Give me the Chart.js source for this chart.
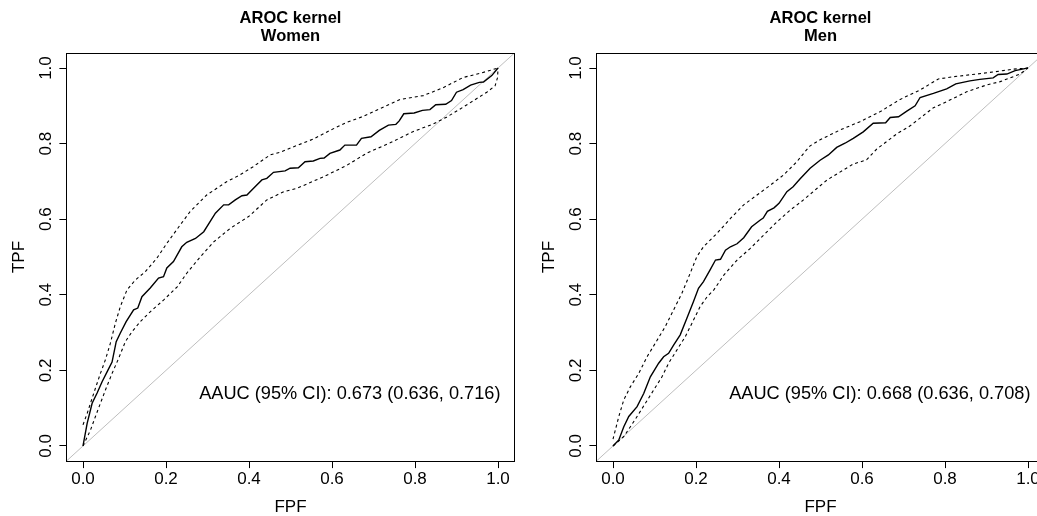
<!DOCTYPE html>
<html>
<head>
<meta charset="utf-8">
<script src="https://cdn.jsdelivr.net/npm/chart.js@4.4.1/dist/chart.umd.min.js"></script>
<style>
html, body { margin: 0; padding: 0; background: #fff; width: 1037px; height: 516px; overflow: hidden; }
canvas { position: absolute; top: 0; }
#women { left: 0; }
#men { left: 530px; }
</style>
</head>
<body>
<canvas id="women" width="518" height="516" style="width:518px;height:516px"></canvas>
<canvas id="men" width="518" height="516" style="width:518px;height:516px"></canvas>
<script>
// axis ticks + limits (R style, 4% extension)
var tickVals = [0, 0.2, 0.4, 0.6, 0.8, 1.0];
var axisLim = [-0.04, 1.04];
var panelTitle = 'AROC kernel';

// Women: [FPF, TPF]
var womenEst = [[0,0],[0.01,0.06],[0.022,0.113],[0.034,0.14],[0.046,0.17],[0.058,0.196],[0.07,0.222],[0.08,0.276],[0.09,0.299],[0.104,0.329],[0.122,0.36],[0.132,0.365],[0.142,0.395],[0.162,0.418],[0.182,0.444],[0.194,0.448],[0.202,0.471],[0.218,0.488],[0.238,0.527],[0.25,0.539],[0.271,0.549],[0.291,0.567],[0.319,0.616],[0.339,0.638],[0.351,0.638],[0.367,0.651],[0.383,0.662],[0.395,0.664],[0.411,0.682],[0.431,0.704],[0.443,0.708],[0.459,0.724],[0.487,0.728],[0.499,0.735],[0.519,0.736],[0.535,0.752],[0.555,0.754],[0.571,0.761],[0.581,0.762],[0.595,0.774],[0.619,0.783],[0.631,0.796],[0.659,0.796],[0.671,0.814],[0.694,0.818],[0.714,0.835],[0.736,0.849],[0.754,0.851],[0.762,0.86],[0.773,0.879],[0.798,0.881],[0.818,0.888],[0.836,0.89],[0.85,0.903],[0.874,0.904],[0.888,0.914],[0.9,0.936],[0.916,0.943],[0.934,0.955],[0.955,0.962],[0.965,0.963],[0.985,0.98],[1,1]];
var womenUpper = [[0,0.056],[0.01,0.086],[0.018,0.113],[0.03,0.153],[0.042,0.192],[0.054,0.228],[0.066,0.272],[0.078,0.325],[0.09,0.369],[0.106,0.413],[0.126,0.439],[0.15,0.461],[0.178,0.497],[0.202,0.536],[0.231,0.58],[0.258,0.62],[0.298,0.664],[0.346,0.699],[0.378,0.717],[0.41,0.739],[0.451,0.77],[0.475,0.777],[0.515,0.795],[0.555,0.812],[0.595,0.835],[0.635,0.856],[0.675,0.872],[0.716,0.893],[0.764,0.917],[0.82,0.927],[0.868,0.948],[0.916,0.975],[0.957,0.986],[1,1]];
var womenLower = [[0,0],[0.018,0.042],[0.03,0.078],[0.042,0.113],[0.054,0.148],[0.07,0.192],[0.086,0.232],[0.102,0.276],[0.118,0.302],[0.138,0.329],[0.162,0.355],[0.194,0.386],[0.227,0.421],[0.25,0.457],[0.283,0.501],[0.315,0.54],[0.355,0.576],[0.399,0.607],[0.443,0.651],[0.484,0.673],[0.516,0.682],[0.579,0.712],[0.635,0.742],[0.684,0.775],[0.74,0.802],[0.796,0.832],[0.844,0.852],[0.876,0.87],[0.908,0.891],[0.94,0.913],[0.973,0.936],[0.993,0.953],[0.999,0.975],[1,1]];
var womenAauc = [0.673, 0.636, 0.716];

// Men
var menEst = [[0,0],[0.014,0.016],[0.026,0.051],[0.038,0.078],[0.058,0.104],[0.074,0.139],[0.09,0.183],[0.11,0.219],[0.122,0.236],[0.134,0.245],[0.146,0.267],[0.162,0.294],[0.178,0.338],[0.194,0.382],[0.206,0.417],[0.218,0.435],[0.234,0.466],[0.247,0.492],[0.259,0.494],[0.271,0.518],[0.283,0.527],[0.299,0.535],[0.315,0.551],[0.334,0.58],[0.355,0.598],[0.362,0.603],[0.372,0.621],[0.388,0.63],[0.4,0.642],[0.419,0.673],[0.434,0.686],[0.451,0.707],[0.475,0.735],[0.499,0.756],[0.519,0.77],[0.539,0.79],[0.559,0.801],[0.579,0.814],[0.603,0.831],[0.627,0.854],[0.657,0.855],[0.668,0.869],[0.688,0.871],[0.708,0.886],[0.728,0.9],[0.74,0.922],[0.772,0.933],[0.804,0.945],[0.826,0.958],[0.86,0.966],[0.884,0.97],[0.916,0.974],[0.928,0.983],[0.949,0.984],[0.969,0.993],[0.995,0.999],[1,1]];
var menUpper = [[0,0.018],[0.014,0.078],[0.026,0.122],[0.042,0.157],[0.062,0.192],[0.082,0.236],[0.102,0.272],[0.126,0.316],[0.146,0.36],[0.166,0.404],[0.186,0.457],[0.202,0.501],[0.218,0.527],[0.251,0.563],[0.283,0.602],[0.315,0.638],[0.347,0.664],[0.379,0.69],[0.411,0.717],[0.443,0.752],[0.463,0.779],[0.475,0.794],[0.499,0.81],[0.547,0.836],[0.595,0.858],[0.643,0.884],[0.692,0.917],[0.74,0.942],[0.784,0.971],[0.82,0.977],[0.876,0.984],[0.933,0.992],[0.965,0.997],[1,1]];
var menLower = [[0,0],[0.026,0.025],[0.042,0.051],[0.058,0.078],[0.078,0.113],[0.098,0.148],[0.118,0.183],[0.134,0.219],[0.154,0.254],[0.174,0.289],[0.194,0.333],[0.21,0.369],[0.227,0.395],[0.243,0.413],[0.267,0.452],[0.299,0.492],[0.331,0.523],[0.363,0.558],[0.395,0.593],[0.427,0.624],[0.459,0.651],[0.492,0.682],[0.516,0.704],[0.531,0.714],[0.579,0.746],[0.611,0.757],[0.635,0.785],[0.684,0.826],[0.716,0.847],[0.772,0.895],[0.804,0.911],[0.852,0.937],[0.9,0.955],[0.933,0.964],[0.981,0.984],[1,1]];
var menAauc = [0.668, 0.636, 0.708];

var FONT = '"Liberation Sans", Arial, Helvetica, sans-serif';

function toPoints(arr) {
    return arr.map(function (p) { return {x: p[0], y: p[1]}; });
}

// box around plot region + AAUC text
var framePlugin = {
    id: 'frame',
    afterDatasetsDraw: function (chart, args, opts) {
        var a = chart.chartArea;
        var ctx = chart.ctx;
        ctx.save();
        ctx.strokeStyle = '#000';
        ctx.lineWidth = 1;
        ctx.strokeRect(Math.round(a.left) + 0.5, Math.round(a.top) + 0.5,
            Math.round(a.right - a.left), Math.round(a.bottom - a.top));
        ctx.font = '18.2px ' + FONT;
        ctx.fillStyle = '#000';
        ctx.textAlign = 'left';
        ctx.textBaseline = 'middle';
        ctx.fillText(opts.text, chart.scales.x.getPixelForValue(0.28), chart.scales.y.getPixelForValue(0.137));
        ctx.restore();
    }
};

function axisOpts(isX) {
    var o = {
        type: 'linear',
        min: axisLim[0],
        max: axisLim[1],
        afterBuildTicks: function (s) {
            s.ticks = tickVals.map(function (v) { return {value: v}; });
        },
        grid: {drawOnChartArea: false, drawTicks: true, tickLength: 7, color: '#000', tickColor: '#000', lineWidth: 1},
        border: {display: false},
        ticks: {
            font: {family: FONT, size: 17},
            color: '#000',
            padding: 1,
            autoSkip: false,
            callback: function (v) { return Number(v).toFixed(1); }
        },
        title: {display: true, text: isX ? 'FPF' : 'TPF', color: '#000',
            font: {family: FONT, size: 17, lineHeight: 1}}
    };
    if (isX) {
        o.ticks.minRotation = 0;
        o.ticks.maxRotation = 0;
        o.title.padding = {top: 0, bottom: 0.5};
        o.afterFit = function (s) { s.height = 54.9; s.paddingLeft = 0; s.paddingRight = 0; };
    } else {
        o.ticks.minRotation = 90;
        o.ticks.maxRotation = 90;
        o.ticks.crossAlign = 'center';
        o.title.padding = {top: 10.7, bottom: 0};
        o.afterFit = function (s) { s.width = 66.4; s.paddingTop = 0; s.paddingBottom = 0; };
    }
    return o;
}

function makePanel(id, sub, est, upper, lower, aauc) {
    var txt = 'AAUC (95% CI): ' + aauc[0].toFixed(3) + ' (' + aauc[1].toFixed(3) + ', ' + aauc[2].toFixed(3) + ')';
    return new Chart(document.getElementById(id), {
        type: 'scatter',
        data: {
            datasets: [
                {data: toPoints(est), borderColor: '#000', borderWidth: 1.4},
                {data: toPoints(upper), borderColor: '#000', borderWidth: 1.1, borderDash: [3, 3]},
                {data: toPoints(lower), borderColor: '#000', borderWidth: 1.1, borderDash: [3, 3]},
                {data: toPoints([[axisLim[0], axisLim[0]], [axisLim[1], axisLim[1]]]), borderColor: '#bebebe', borderWidth: 1}
            ]
        },
        options: {
            responsive: false,
            animation: false,
            events: [],
            showLine: true,
            elements: {point: {radius: 0}, line: {tension: 0, fill: false}},
            layout: {padding: {left: 0, right: 3.4, top: 0, bottom: 0}},
            scales: {x: axisOpts(true), y: axisOpts(false)},
            plugins: {
                legend: {display: false},
                tooltip: {enabled: false},
                title: {
                    display: true,
                    text: [panelTitle, sub],
                    fullSize: false,
                    color: '#000',
                    font: {family: FONT, size: 16.5, weight: 'bold', lineHeight: 17.8 / 16.5},
                    padding: {top: 9.8, bottom: 7.5}
                },
                frame: {text: txt}
            }
        },
        plugins: [framePlugin]
    });
}

makePanel('women', 'Women', womenEst, womenUpper, womenLower, womenAauc);
makePanel('men', 'Men', menEst, menUpper, menLower, menAauc);
</script>
</body>
</html>
